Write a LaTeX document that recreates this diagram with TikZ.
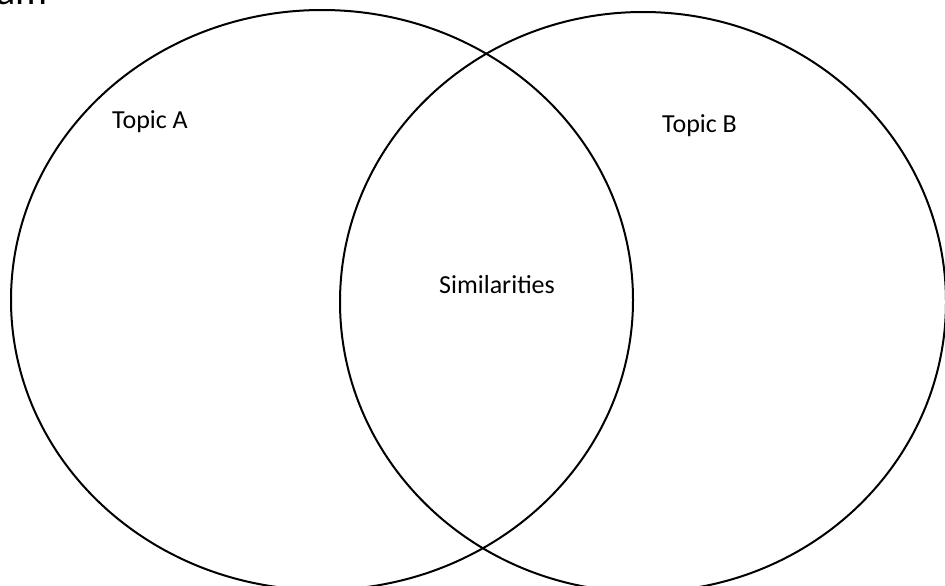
\documentclass[tikz,border=0pt]{standalone}
\usepackage{fontspec}
\setmainfont{Carlito}
\begin{document}
\begin{tikzpicture}[x=1pt,y=-1pt,
  venn/.style={draw=black,line width=2pt},
  lbl/.style={inner sep=0pt,anchor=base,font=\fontsize{26}{30}\selectfont}]
\useasboundingbox (0,0) rectangle (945,586);
\fill[white] (0,0) rectangle (945,586);
\draw[venn] (322,300) ellipse [x radius=311, y radius=290];
\draw[venn] (643,302) ellipse [x radius=303, y radius=290];
\node[lbl,anchor=base east,font=\fontsize{40}{44}\selectfont] (title) at (48,5) {am};
\node[lbl,anchor=base west] (ta) at (112,128) {Topic A};
\node[lbl,anchor=base west] (tb) at (662,132) {Topic B};
\node[lbl,anchor=base west] (sim) at (439,293) {Similarities};
\end{tikzpicture}
\end{document}
